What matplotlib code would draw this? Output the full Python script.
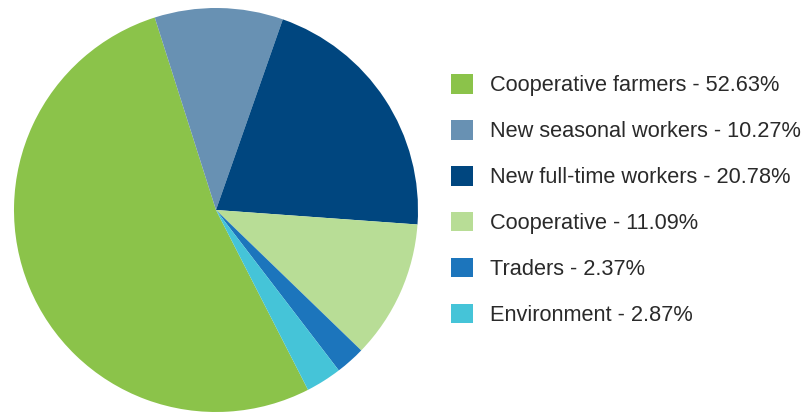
import matplotlib.pyplot as plt

# values
labels = ["Cooperative farmers", "New seasonal workers", "New full-time workers",
          "Cooperative", "Traders", "Environment"]
shares = [52.63, 10.27, 20.78, 11.09, 2.37, 2.87]
colors = ["#8BC34A", "#6891B3", "#00467F", "#B8DD96", "#1C75BC", "#45C4D8"]

plt.rcParams["font.family"] = ["Liberation Sans", "DejaVu Sans"]

W, H = 807, 412
fig = plt.figure(figsize=(W / 100, H / 100), dpi=100)

# pie: centre ~ (216, 210) px, radius ~ 202 px
cx, cy, r = 216, 210, 202
ax = fig.add_axes([(cx - r) / W, (H - cy - r) / H, 2 * r / W, 2 * r / H])
wedges, _ = ax.pie(shares, colors=colors, startangle=297.1, counterclock=False,
                   radius=1, wedgeprops=dict(linewidth=0))
ax.set_xlim(-1, 1)
ax.set_ylim(-1, 1)
ax.set_aspect("equal")
ax.axis("off")

leg_labels = [f"{l} - {v:.2f}%" for l, v in zip(labels, shares)]
fig.legend(wedges, leg_labels, loc="upper left",
           bbox_to_anchor=(451 / W, 1 - 74 / H), frameon=False,
           fontsize=15.7, handlelength=1.0, handleheight=1.0,
           labelspacing=1.09, handletextpad=0.78, borderpad=0, borderaxespad=0,
           labelcolor="#2a2a2a")

fig.savefig("out.png", dpi=100)
